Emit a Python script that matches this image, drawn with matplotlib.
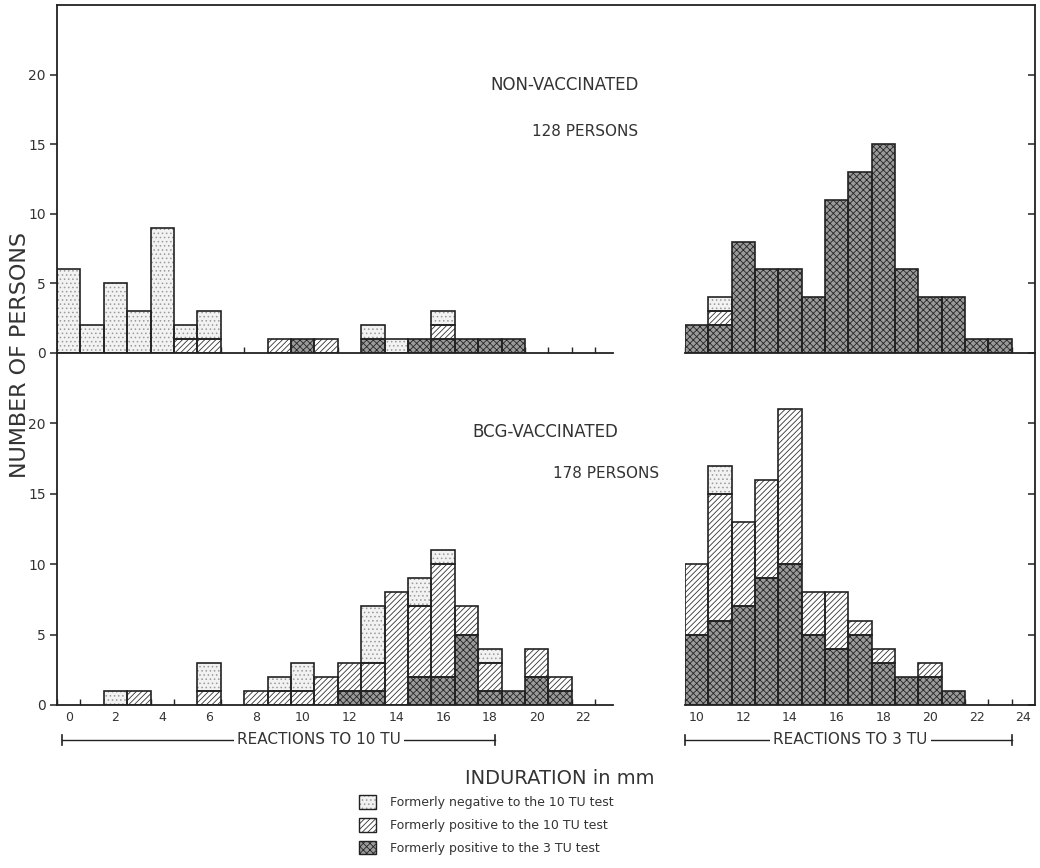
import numpy as np
import matplotlib
matplotlib.use("Agg")
import matplotlib.pyplot as plt
from matplotlib.patches import Patch
from matplotlib.lines import Line2D

# --- data: counts per mm of induration, stacked (3 TU pos / 10 TU pos / negative) ---
# non-vaccinated, reactions to 10 TU
nv10_x = [0, 1, 2, 3, 4, 5, 6, 9, 10, 11, 13, 14, 15, 16, 17, 18, 19]
nv10_pos3 = [0, 0, 0, 0, 0, 0, 0, 0, 1, 0, 1, 0, 1, 1, 1, 1, 1]
nv10_pos10 = [0, 0, 0, 0, 0, 1, 1, 1, 0, 1, 0, 0, 0, 1, 0, 0, 0]
nv10_neg = [6, 2, 5, 3, 9, 1, 2, 0, 0, 0, 1, 1, 0, 1, 0, 0, 0]

# non-vaccinated, reactions to 3 TU
nv3_x = [10, 11, 12, 13, 14, 15, 16, 17, 18, 19, 20, 21, 22, 23]
nv3_pos3 = [2, 2, 8, 6, 6, 4, 11, 13, 15, 6, 4, 4, 1, 1]
nv3_pos10 = [0, 1, 0, 0, 0, 0, 0, 0, 0, 0, 0, 0, 0, 0]
nv3_neg = [0, 1, 0, 0, 0, 0, 0, 0, 0, 0, 0, 0, 0, 0]

# BCG-vaccinated, reactions to 10 TU
bcg10_x = [2, 3, 6, 8, 9, 10, 11, 12, 13, 14, 15, 16, 17, 18, 19, 20, 21]
bcg10_pos3 = [0, 0, 0, 0, 0, 0, 0, 1, 1, 0, 2, 2, 5, 1, 1, 2, 1]
bcg10_pos10 = [0, 1, 1, 1, 1, 1, 2, 2, 2, 8, 5, 8, 2, 2, 0, 2, 1]
bcg10_neg = [1, 0, 2, 0, 1, 2, 0, 0, 4, 0, 2, 1, 0, 1, 0, 0, 0]

# BCG-vaccinated, reactions to 3 TU
bcg3_x = [10, 11, 12, 13, 14, 15, 16, 17, 18, 19, 20, 21]
bcg3_pos3 = [5, 6, 7, 9, 10, 5, 4, 5, 3, 2, 2, 1]
bcg3_pos10 = [5, 9, 6, 7, 11, 3, 4, 1, 1, 0, 1, 0]
bcg3_neg = [0, 2, 0, 0, 0, 0, 0, 0, 0, 0, 0, 0]

legend_labels = ["Formerly negative to the 10 TU test",
                 "Formerly positive to the 10 TU test",
                 "Formerly positive to the 3 TU test"]

# styles: (face, hatch, hatch colour)
sty_neg = ("#f2f2f2", "....", "#9a9a9a")
sty_pos10 = ("#ffffff", "//////", "#333333")
sty_pos3 = ("#9a9a9a", "xxxxx", "#262626")

TXT = "#333333"
LINE = "#222222"
plt.rcParams["hatch.linewidth"] = 0.6
plt.rcParams["font.family"] = "DejaVu Sans"

W, H = 1040, 868
fig = plt.figure(figsize=(W / 100, H / 100), dpi=100)


def fx(px):
    return px / W


def fy(py):
    return 1 - py / H


def stack(ax, x, layers):
    x = np.asarray(x)
    bottom = np.zeros(len(x))
    for h, (face, hatch, hc) in layers:
        h = np.asarray(h, dtype=float)
        m = h > 0
        ax.bar(x[m], h[m], bottom=bottom[m], width=1, color=face, hatch=hatch,
               edgecolor=hc, linewidth=0, zorder=2)
        ax.bar(x[m], h[m], bottom=bottom[m], width=1, fill=False,
               edgecolor=LINE, linewidth=1.2, zorder=3)
        bottom = bottom + h


# axes positions (pixel based)
top_y0, mid_y, bot_y = 5, 353, 705
lx0, lx1 = 57, 613
rx0, rx1 = 685, 1035

axes = {}
for row, (ya, yb) in enumerate([(top_y0, mid_y), (mid_y, bot_y)]):
    for col, (xa, xb) in enumerate([(lx0, lx1), (rx0, rx1)]):
        ax = fig.add_axes([fx(xa), fy(yb), fx(xb - xa), (yb - ya) / H])
        axes[(row, col)] = ax

for (row, col), ax in axes.items():
    ax.set_ylim(0, 25)
    if col == 0:
        ax.set_xlim(-0.5, -0.5 + (lx1 - lx0) / 23.4)
    else:
        ax.set_xlim(9.5, 24.5)
    ax.set_axisbelow(True)
    for s in ax.spines.values():
        s.set_color(LINE)
        s.set_linewidth(1.3)
    ax.spines["top"].set_visible(False)
    ax.spines["right"].set_visible(col == 1)
    ax.spines["left"].set_visible(col == 0)
    ax.patch.set_alpha(0)

    # y ticks
    ax.set_yticks([0, 5, 10, 15, 20])
    if col == 0:
        ax.tick_params(axis="y", direction="out", length=5, width=1.1,
                       color=LINE, labelsize=10, labelcolor=TXT, pad=3)
        ax.set_yticklabels(["0", "5", "10", "15", "20"])
    else:
        ax.yaxis.tick_right()
        ax.tick_params(axis="y", direction="in", length=5, width=1.1,
                       color=LINE, labelright=False)

    # x ticks: small inward ticks at bar edges, labels at even mm
    lo, hi = ax.get_xlim()
    edges = np.arange(np.ceil(lo - 0.5) + 0.5, hi, 1.0)
    ax.set_xticks(edges, minor=True)
    ax.tick_params(axis="x", which="minor", direction="in", length=4,
                   width=1.0, color=LINE)
    evens = np.arange(0 if col == 0 else 10, (22 if col == 0 else 24) + 1, 2)
    ax.set_xticks(evens)
    ax.tick_params(axis="x", which="major", length=0, labelsize=9,
                   labelcolor=TXT, pad=4)
    if row == 0:
        ax.tick_params(axis="x", which="major", labelbottom=False)

stack(axes[(0, 0)], nv10_x, [(nv10_pos3, sty_pos3), (nv10_pos10, sty_pos10), (nv10_neg, sty_neg)])
stack(axes[(0, 1)], nv3_x, [(nv3_pos3, sty_pos3), (nv3_pos10, sty_pos10), (nv3_neg, sty_neg)])
stack(axes[(1, 0)], bcg10_x, [(bcg10_pos3, sty_pos3), (bcg10_pos10, sty_pos10), (bcg10_neg, sty_neg)])
stack(axes[(1, 1)], bcg3_x, [(bcg3_pos3, sty_pos3), (bcg3_pos10, sty_pos10), (bcg3_neg, sty_neg)])

# outer frame top
fig.add_artist(Line2D([fx(lx0), fx(rx1)], [fy(top_y0), fy(top_y0)], color=LINE, lw=1.3))

# panel titles
fig.text(fx(565), fy(85), "NON-VACCINATED", ha="center", va="center", fontsize=12, color=TXT)
fig.text(fx(585), fy(132), "128 PERSONS", ha="center", va="center", fontsize=11, color=TXT)
fig.text(fx(545), fy(432), "BCG-VACCINATED", ha="center", va="center", fontsize=12, color=TXT)
fig.text(fx(606), fy(473), "178 PERSONS", ha="center", va="center", fontsize=11, color=TXT)

fig.text(fx(20), fy(355), "NUMBER OF PERSONS", rotation=90, ha="center", va="center",
         fontsize=16, color=TXT)
fig.text(fx(560), fy(778), "INDURATION in mm", ha="center", va="center", fontsize=14, color=TXT)


# brackets under the x axes
def bracket(ax, x0, x1, xt, label, ypx=740):
    axh = ax.get_position().height * H
    yy = -(ypx - bot_y) / axh
    tr = ax.get_xaxis_transform()
    ax.plot([x0, x1], [yy, yy], color=LINE, lw=1.0, transform=tr, clip_on=False)
    for xe in (x0, x1):
        ax.plot([xe, xe], [yy - 0.014, yy + 0.014], color=LINE, lw=1.2,
                transform=tr, clip_on=False)
    ax.text(xt, yy, label, transform=tr, ha="center", va="center",
            fontsize=11, color=TXT,
            bbox=dict(boxstyle="square,pad=0.2", fc="white", ec="none"))


bracket(axes[(1, 0)], -0.3, 18.2, 10.7, "REACTIONS TO 10 TU")
bracket(axes[(1, 1)], 9.5, 23.5, 16.6, "REACTIONS TO 3 TU")

# legend
handles = []
for face, hatch, hc in (sty_neg, sty_pos10, sty_pos3):
    handles.append((Patch(facecolor=face, hatch=hatch, edgecolor=hc, linewidth=0),
                    Patch(fill=False, edgecolor=LINE, linewidth=1.0)))
leg = fig.legend(handles, legend_labels, loc="upper left",
                 bbox_to_anchor=(fx(348), fy(784)), frameon=False,
                 fontsize=9, handlelength=1.3, handleheight=1.3,
                 labelspacing=0.7, handletextpad=1.2)
for t in leg.get_texts():
    t.set_color(TXT)

fig.savefig("out.png", dpi=100, facecolor="white")
